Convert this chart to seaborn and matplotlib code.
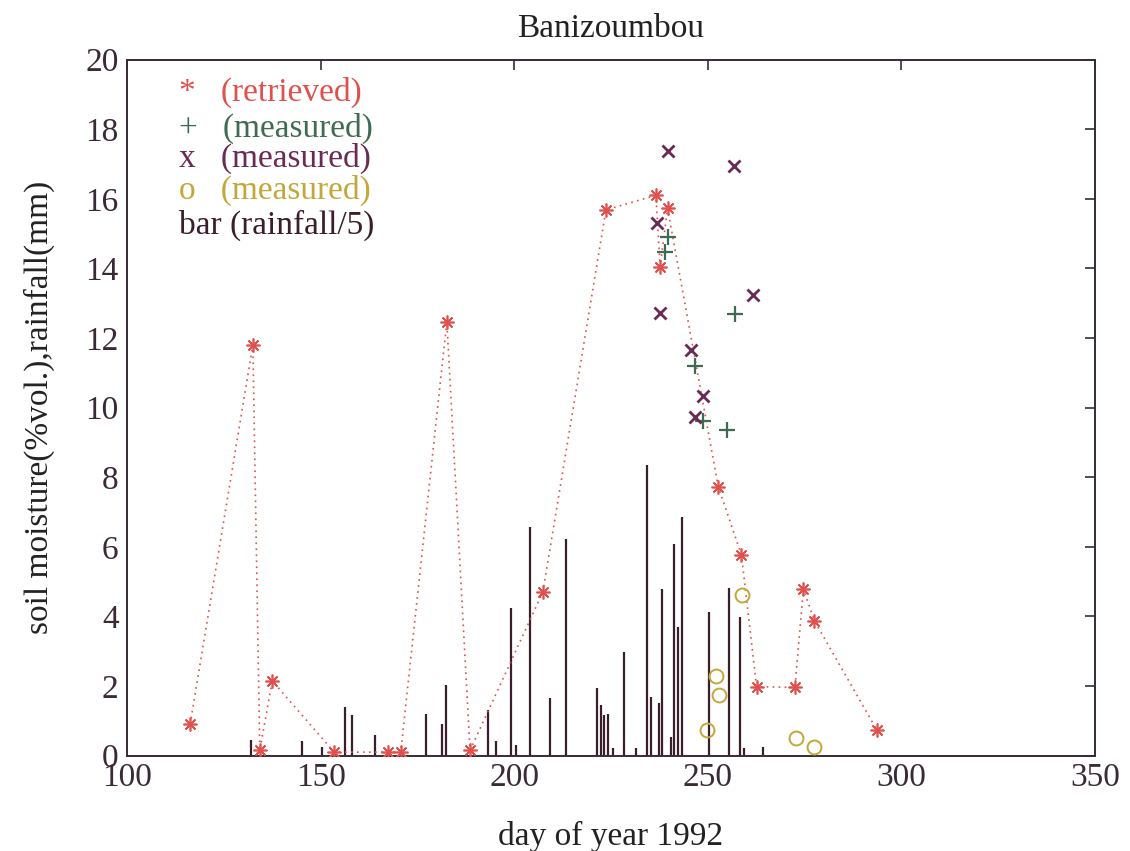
import matplotlib
matplotlib.use("Agg")
import matplotlib.pyplot as plt
import seaborn as sns
import pandas as pd

# ---- data ----
ret_day = [116.3, 132.5, 134.3, 137.5, 153.5, 167.5, 170.7, 182.6, 188.6, 207.4,
           223.7, 236.6, 237.7, 239.6, 252.7, 258.7, 262.6, 272.5, 274.7, 277.5, 293.6]
ret_sm = [0.9, 11.8, 0.15, 2.15, 0.1, 0.1, 0.1, 12.47, 0.15, 4.7,
          15.68, 16.1, 14.05, 15.73, 7.73, 5.76, 1.98, 1.96, 4.79, 3.88, 0.75]

plus_day = [238.9, 239.8, 246.7, 248.8, 254.9, 257.0]
plus_sm = [14.46, 14.91, 11.2, 9.62, 9.36, 12.68]

x_day = [236.8, 237.7, 239.8, 245.7, 246.7, 248.8, 256.8, 261.8]
x_sm = [15.3, 12.71, 17.37, 11.66, 9.74, 10.33, 16.95, 13.24]

o_day = [249.7, 252.0, 252.9, 258.9, 272.8, 277.5]
o_sm = [0.74, 2.29, 1.74, 4.61, 0.5, 0.24]

rain_day = [131.9, 145.1, 150.3, 156.3, 158.1, 164.1, 177.2, 181.3, 182.3, 193.3,
            195.3, 199.2, 200.4, 204.2, 209.2, 213.3, 221.3, 222.3, 223.3, 224.3,
            225.4, 228.4, 231.4, 234.3, 235.4, 237.4, 238.2, 240.4, 241.3, 242.3,
            243.3, 250.3, 255.4, 258.4, 259.3, 264.3]
rain_over5 = [0.45, 0.43, 0.26, 1.39, 1.16, 0.59, 1.19, 0.91, 2.03, 1.31,
              0.42, 4.23, 0.3, 6.58, 1.65, 6.21, 1.93, 1.45, 1.16, 1.19,
              0.21, 2.97, 0.21, 8.35, 1.69, 1.5, 4.79, 0.53, 6.07, 3.69,
              6.87, 4.12, 4.82, 3.99, 0.21, 0.24]

title = "Banizoumbou"
xlabel = "day of year 1992"
ylabel = "soil moisture(%vol.),rainfall(mm)"
legend_items = [("*   (retrieved)", "#e0504c"),
                ("+   (measured)", "#3f6b55"),
                ("x   (measured)", "#6a2a55"),
                ("o   (measured)", "#c2a83a"),
                ("bar (rainfall/5)", "#3b1e2b")]

# ---- styling ----
sns.set_theme(style="white")
plt.rcParams["font.family"] = ["Liberation Serif", "DejaVu Serif"]
plt.rcParams["mathtext.fontset"] = "stix"

RED = "#e0504c"
GREEN = "#3f6b55"
PURPLE = "#6a2a55"
YELLOW = "#c2a83a"
BAR = "#3b1e2b"
AX = "#3a2a36"

fig = plt.figure(figsize=(11.3, 8.51), dpi=100)
ax = fig.add_axes([0.1124, 0.1121, 0.8566, 0.8179])

# rainfall bars
ax.vlines(rain_day, 0, rain_over5, colors=BAR, linewidth=1.6, zorder=2)

# retrieved dotted line + asterisks
ret = pd.DataFrame({"day": ret_day, "sm": ret_sm})
sns.lineplot(data=ret, x="day", y="sm", ax=ax, color=RED, linewidth=1.2,
             linestyle=(0, (1, 2.6)), sort=False, zorder=3)
ax.plot(ret_day, ret_sm, linestyle="none", marker=(8, 2, 0), markersize=10,
        markeredgewidth=1.2, color=RED, zorder=4)

# measured points
ax.plot(plus_day, plus_sm, linestyle="none", marker="+", markersize=12,
        markeredgewidth=1.6, color=GREEN, zorder=5)
ax.plot(x_day, x_sm, linestyle="none", marker="x", markersize=9,
        markeredgewidth=2.0, color=PURPLE, zorder=5)
ax.plot(o_day, o_sm, linestyle="none", marker="o", markersize=10,
        markerfacecolor="none", markeredgewidth=1.4, color=YELLOW, zorder=5)

# text legend
leg_y = [19.07, 18.03, 17.17, 16.25, 15.24]
for (txt, col), yy in zip(legend_items, leg_y):
    ax.text(113.5, yy, txt, color=col, fontsize=24, ha="left", va="center", zorder=6)

ax.set_xlim(100, 350)
ax.set_ylim(0, 20)
ax.set_xticks([100, 150, 200, 250, 300, 350])
ax.set_yticks(list(range(0, 21, 2)))

ax.tick_params(direction="in", length=7, width=1.2, top=True, right=True,
               labelsize=24, colors=AX, pad=6)
ax.tick_params(axis="x", pad=5)
for sp in ax.spines.values():
    sp.set_color(AX)
    sp.set_linewidth(1.4)

ax.set_title(title, fontsize=24, color="#222222", pad=16)
ax.set_xlabel(xlabel, fontsize=24, color="#222222", labelpad=20)
ax.set_ylabel(ylabel, fontsize=24, color="#222222", labelpad=22)

fig.savefig("out.png", dpi=100, facecolor="white")
